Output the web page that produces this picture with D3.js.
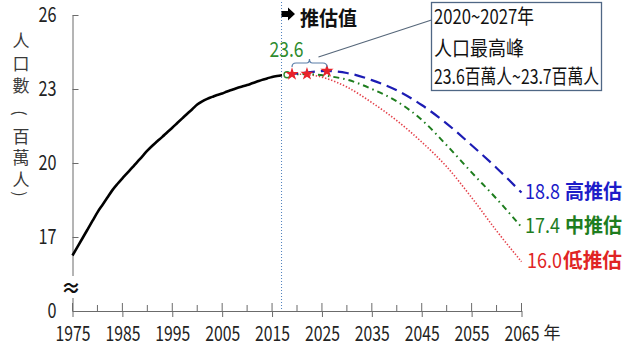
<!DOCTYPE html>
<html><head><meta charset="utf-8">
<script src="https://cdn.jsdelivr.net/npm/d3@7"></script>
<style>
body{margin:0;background:#fff;}
text{font-family:"Noto Sans CJK TC","Noto Sans",sans-serif;}
</style></head>
<body>
<script>
// ---------- data ----------
const histYears = d3.range(1975, 2018);
const histValues = [16.25,16.6,16.95,17.3,17.65,18.0,18.3,18.6,18.9,19.15,
  19.38,19.6,19.82,20.05,20.27,20.5,20.7,20.88,21.06,21.25,
  21.43,21.62,21.81,22.0,22.18,22.37,22.5,22.6,22.68,22.76,
  22.82,22.9,22.97,23.04,23.1,23.16,23.23,23.3,23.37,23.43,
  23.49,23.53,23.56];
const projYears = [2018,2020,2022,2024,2026,2030,2035,2040,2045,2050,2055,2060,2065];
const highValues = [23.58,23.63,23.67,23.71,23.73,23.65,23.36,22.95,22.35,21.6,20.72,19.8,18.8];
const medValues  = [23.58,23.6,23.61,23.58,23.53,23.38,23.0,22.5,21.75,20.72,19.62,18.55,17.4];
const lowValues  = [23.58,23.6,23.58,23.53,23.42,23.08,22.45,21.72,20.85,19.85,18.6,17.25,16.0];
const peakYears = [2019,2022,2026];
const peakValues = [23.6,23.61,23.73];
const baseYear = 2018, baseValue = 23.58;
const estimateLineYear = 2016.9;
const xMajorTicks = [1975,1985,1995,2005,2015,2025,2035,2045,2055,2065];
const xMinorTicks = [1980,1990,2000,2010,2020,2030,2040,2050,2060];
const yTickValues = [14,17,20,23,26];
const yTickLabels = ["0","17","20","23","26"];
const yTitleChars = ["人","口","數","(","百","萬","人",")"];
const endLabels = [
  {num:"18.8", sep:" ", name:"高推估", value:18.8, color:"#1c1cc8"},
  {num:"17.4", sep:" ", name:"中推估", value:17.4, color:"#1e7d1e"},
  {num:"16.0", sep:"", name:"低推估", value:16.0, color:"#e02424"}
];
const boxLines = ["2020~2027年","人口最高峰","23.6百萬人~23.7百萬人"];

// ---------- chart ----------
const W = 624, H = 351;
const svg = d3.select("body").append("svg").attr("width", W).attr("height", H);
svg.append("rect").attr("width", W).attr("height", H).attr("fill", "#fff");

const x = d3.scaleLinear().domain([1975, 2065]).range([72.5, 521.5]);
const y = d3.scaleLinear().domain([14, 26]).range([311, 15]);
const axisColor = "#6b6b6b";

// estimate divider
svg.append("line").attr("x1", x(estimateLineYear)).attr("x2", x(estimateLineYear))
  .attr("y1", 2).attr("y2", y(14))
  .attr("stroke", "#4f81bd").attr("stroke-width", 1).attr("stroke-dasharray", "1,2");

// y axis
const yAxis = d3.axisLeft(y).tickValues(yTickValues)
  .tickFormat((d, i) => yTickLabels[i]).tickSizeInner(-6).tickSizeOuter(0).tickPadding(16);
const gy = svg.append("g").attr("transform", "translate(72.5,0)").call(yAxis);
gy.select(".domain").attr("stroke", axisColor);
gy.selectAll(".tick line").attr("stroke", axisColor);
gy.selectAll(".tick text").attr("font-size", 21).attr("fill", "#222")
  .attr("font-family", "Noto Sans CJK TC")
  .attr("textLength", d => (yTickLabels[yTickValues.indexOf(d)].length * 9))
  .attr("lengthAdjust", "spacingAndGlyphs");

// x axis
const xAxis = d3.axisBottom(x).tickValues(xMajorTicks).tickFormat(d3.format("d"))
  .tickSizeInner(6).tickSizeOuter(0).tickPadding(9);
const gx = svg.append("g").attr("transform", `translate(0,${y(14)})`).call(xAxis);
gx.select(".domain").attr("stroke", axisColor);
gx.selectAll(".tick line").attr("stroke", axisColor);
gx.selectAll(".tick text").attr("font-size", 21).attr("fill", "#222")
  .attr("font-family", "Noto Sans CJK TC")
  .attr("textLength", 35).attr("lengthAdjust", "spacingAndGlyphs");
gx.selectAll(".tickup").data(xMajorTicks).enter().append("line")
  .attr("x1", d => x(d)).attr("x2", d => x(d)).attr("y1", -8).attr("y2", 0)
  .attr("stroke", axisColor);
gx.selectAll(".minor").data(xMinorTicks).enter().append("line")
  .attr("x1", d => x(d)).attr("x2", d => x(d)).attr("y1", -6).attr("y2", 0)
  .attr("stroke", axisColor);

// axis break
svg.append("rect").attr("x", 66).attr("y", 276).attr("width", 13).attr("height", 22).attr("fill", "#fff");
svg.append("text").attr("x", 71).attr("y", 296).attr("text-anchor", "middle")
  .attr("font-size", 20).attr("font-weight", "bold").attr("fill", "#111")
  .attr("font-family", "DejaVu Sans").text("≈");

// unit
svg.append("text").attr("x", 552).attr("y", 339).attr("text-anchor", "middle")
  .attr("font-size", 17).attr("fill", "#222").text("年");

// y title (stacked vertically, parentheses turned)
const titleY = [39, 62, 84, 113, 135, 156, 178, 194];
const isParen = d => d === "(" || d === ")";
svg.append("g").selectAll("text").data(yTitleChars).enter().append("text")
  .attr("transform", (d, i) => isParen(d)
    ? `translate(21,${titleY[i]}) rotate(90)` : `translate(21,${titleY[i]})`)
  .attr("text-anchor", "middle").attr("dominant-baseline", "central")
  .attr("font-family", d => isParen(d) ? "DejaVu Sans" : null)
  .attr("font-size", d => isParen(d) ? 16 : 17)
  .attr("fill", "#3a3a3a").text(d => d);

// lines
const line = d3.line().x(d => x(d[0])).y(d => y(d[1])).curve(d3.curveMonotoneX);
svg.append("path").datum(histYears.map((yr, i) => [yr, histValues[i]]))
  .attr("d", line).attr("fill", "none").attr("stroke", "#000").attr("stroke-width", 2.6);

svg.append("path").datum(projYears.map((yr, i) => [yr, lowValues[i]]))
  .attr("d", line).attr("fill", "none").attr("stroke", "#e4414a").attr("stroke-width", 1.6)
  .attr("stroke-dasharray", "1.4,1.8");
svg.append("path").datum(projYears.map((yr, i) => [yr, medValues[i]]))
  .attr("d", line).attr("fill", "none").attr("stroke", "#1e7d1e").attr("stroke-width", 2)
  .attr("stroke-dasharray", "6,4,1.5,4");
svg.append("path").datum(projYears.map((yr, i) => [yr, highValues[i]]))
  .attr("d", line).attr("fill", "none").attr("stroke", "#1c1cb4").attr("stroke-width", 2.2)
  .attr("stroke-dasharray", "11,6");

// base circle
svg.append("circle").attr("cx", x(baseYear)).attr("cy", y(baseValue)).attr("r", 3)
  .attr("fill", "#fff").attr("stroke", "#2e8b2e").attr("stroke-width", 1.4);

// peak stars
svg.selectAll(".star").data(peakYears).enter().append("path")
  .attr("transform", (d, i) => `translate(${x(d)},${y(peakValues[i])})`)
  .attr("d", d3.symbol(d3.symbolStar, 55)).attr("fill", "#e8222a");

// brace over peaks
const bx0 = x(peakYears[0]), bx1 = x(peakYears[2]), bm = (bx0 + bx1) / 2, by = 63;
svg.append("path")
  .attr("d", `M${bx0},${by + 4} Q${bx0},${by} ${bx0 + 4},${by} L${bm - 3},${by} Q${bm},${by} ${bm},${by - 4} Q${bm},${by} ${bm + 3},${by} L${bx1 - 4},${by} Q${bx1},${by} ${bx1},${by + 4}`)
  .attr("fill", "none").attr("stroke", "#5b7ea8").attr("stroke-width", 1.2);
// callout connector
svg.append("line").attr("x1", bm + 9).attr("y1", by - 6).attr("x2", 431.5).attr("y2", 20)
  .attr("stroke", "#56677a").attr("stroke-width", 1.2);

// box
svg.append("rect").attr("x", 431.5).attr("y", 2.5).attr("width", 170).attr("height", 88)
  .attr("fill", "#fff").attr("stroke", "#4f6785").attr("stroke-width", 1.3);
const boxW = [100, 90, 165];
const boxY = [24, 56, 84];
svg.selectAll(".boxt").data(boxLines).enter().append("text")
  .attr("x", 434).attr("y", (d, i) => boxY[i]).attr("font-size", 20).attr("fill", "#111")
  .attr("textLength", (d, i) => boxW[i]).attr("lengthAdjust", "spacingAndGlyphs").text(d => d);

// estimate header
svg.append("path").attr("d", "M281.5,11 L288,11 L288,7.5 L295,14 L288,20.5 L288,17 L281.5,17 Z").attr("fill", "#000");
svg.append("text").attr("x", 300).attr("y", 26).attr("font-size", 20).attr("font-weight", "bold")
  .attr("fill", "#111").attr("textLength", 57).attr("lengthAdjust", "spacingAndGlyphs").text("推估值");

// 23.6 label
svg.append("text").attr("x", 286.5).attr("y", 57).attr("text-anchor", "middle")
  .attr("font-size", 21).attr("fill", "#2e8b2e")
  .attr("textLength", 34).attr("lengthAdjust", "spacingAndGlyphs").text(baseValue.toFixed(1));

// end labels
endLabels.forEach(l => {
  const t = svg.append("text").attr("y", y(l.value) + 6).attr("font-size", 20).attr("fill", l.color);
  const nx = l.sep ? 525 : 527;
  t.append("tspan").attr("x", nx).attr("textLength", 35).attr("lengthAdjust", "spacingAndGlyphs").text(l.num);
  t.append("tspan").attr("x", l.sep ? 565 : 563).attr("font-weight", "bold")
    .attr("textLength", l.sep ? 57 : 59).attr("lengthAdjust", "spacingAndGlyphs").text(l.name);
});
</script>
</body></html>
